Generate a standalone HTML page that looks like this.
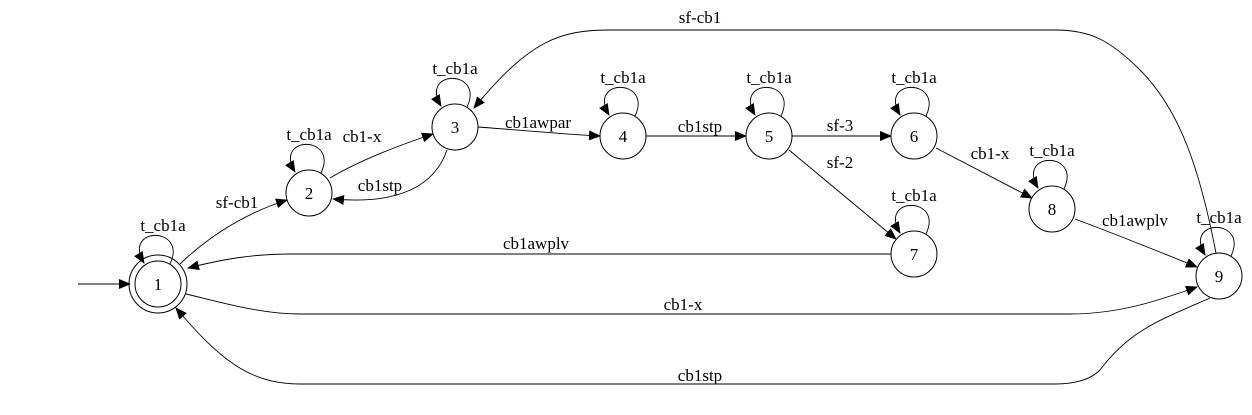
<!DOCTYPE html>
<html><head><meta charset="utf-8"><style>
html,body{margin:0;padding:0;background:#fff;}
svg{display:block;}
text{font-family:"Liberation Serif","DejaVu Serif","Times New Roman",serif;font-size:17px;fill:#000;}
</style></head><body>
<svg width="1252" height="415" viewBox="0 0 1252 415">
<defs>
<marker id="ah" markerWidth="12" markerHeight="10" refX="11" refY="5" orient="auto" markerUnits="userSpaceOnUse">
<path d="M0,0 L12,5 L0,10 Z" fill="#000"/>
</marker>
</defs>
<g id="edges" fill="none" stroke="#000" stroke-width="0.9"></g>
<g id="nodes"></g>
<g id="labels"></g>
</svg>
<script>
const nodeIds=['1','2','3','4','5','6','7','8','9'];
const nodeX=[158,309,455,623,769,914,914,1052,1219];
const nodeY=[284,193,127,136,136,136,254,209,276];
const R=23;
const edgePaths=[
 ['start-arrow','M78,284 L130,284','',0,0],
 ['edge-1-2','M180,264 C205,240 240,215 287,200','sf-cb1',237,208],
 ['edge-2-3','M330,178 C360,160 400,145 433,134','cb1-x',362,142],
 ['edge-3-2','M447,150 C435,185 400,205 333,199','cb1stp',380,191],
 ['edge-3-4','M478,127 C520,130 560,134 600,136','cb1awpar',538,128],
 ['edge-4-5','M646,136 L746,136','cb1stp',700,132],
 ['edge-5-6','M792,136 L891,136','sf-3',840,131],
 ['edge-5-7','M789,150 L896,239','sf-2',840,168],
 ['edge-6-8','M936,148 L1032,198','cb1-x',990,159],
 ['edge-8-9','M1075,219 C1110,232 1160,252 1197,267','cb1awplv',1135,226],
 ['edge-7-1','M891,254 L290,254 C250,254 220,260 188,268','cb1awplv',536,249],
 ['edge-1-9','M186,294 C220,302 260,314 300,314 L1070,314 C1120,314 1160,300 1197,287','cb1-x',683,310],
 ['edge-9-1','M1210,298 C1160,320 1130,330 1100,370 C1090,380 1075,384 1055,384 L300,384 C250,384 220,360 176,308','cb1stp',700,381],
 ['edge-9-3','M1216,253 C1200,170 1180,110 1140,70 C1110,40 1090,30 1055,30 L610,30 C560,30 530,40 474,108','sf-cb1',700,23]
];
const NS='http://www.w3.org/2000/svg';
const gE=document.getElementById('edges'),gN=document.getElementById('nodes'),gL=document.getElementById('labels');
function txt(x,y,s,nm){const t=document.createElementNS(NS,'text');t.setAttribute('x',x);t.setAttribute('y',y);t.setAttribute('text-anchor','middle');t.textContent=s;


gL.appendChild(t);}
edgePaths.forEach(e=>{const p=document.createElementNS(NS,'path');p.setAttribute('d',e[1]);p.setAttribute('marker-end','url(#ah)');


gE.appendChild(p);
if(e[2])txt(e[3],e[4],e[2],e[0]+'-label');});
nodeIds.forEach((id,i)=>{const cx=nodeX[i],cy=nodeY[i];
const l=document.createElementNS(NS,'path');
l.setAttribute('d',`M${cx+12},${cy-20} C${cx+30},${cy-58} ${cx-36},${cy-58} ${cx-14},${cy-21}`);
l.setAttribute('marker-end','url(#ah)');


gE.appendChild(l);
txt(cx+(id==='1'?5:0),cy-53,'t_cb1a','self-loop-label-'+id);
const c=document.createElementNS(NS,'circle');c.setAttribute('cx',cx);c.setAttribute('cy',cy);c.setAttribute('r',R);c.setAttribute('fill','#fff');c.setAttribute('stroke','#000');


gN.appendChild(c);
if(id==='1'){const c2=document.createElementNS(NS,'circle');c2.setAttribute('cx',cx);c2.setAttribute('cy',cy);c2.setAttribute('r',29);c2.setAttribute('fill','none');c2.setAttribute('stroke','#000');


gN.appendChild(c2);}
const t=document.createElementNS(NS,'text');t.setAttribute('x',cx);t.setAttribute('y',cy+6);t.setAttribute('text-anchor','middle');t.textContent=id;


gN.appendChild(t);});
</script>
</body></html>
